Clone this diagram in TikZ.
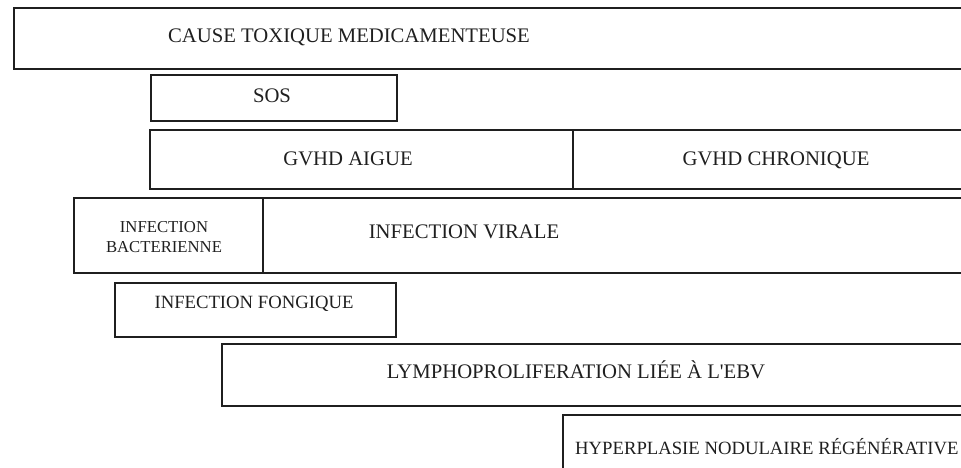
\documentclass[tikz,border=0pt]{standalone}
\usepackage{fontspec}
\setmainfont{Liberation Serif}
\usetikzlibrary{positioning}

\tikzset{
  cadre/.style={draw=black!88, line width=1.6pt, inner sep=0pt, anchor=north west},
  etiq/.style={font=\fontsize{20.7}{24}\selectfont, inner sep=0pt, text=black!88, anchor=base},
  moyen/.style={font=\fontsize{18.7}{22}\selectfont},
  petit/.style={font=\fontsize{16.7}{20}\selectfont, align=center, anchor=center}
}

\begin{document}
\begin{tikzpicture}[x=1pt,y=-1pt]
  \useasboundingbox (0,0) rectangle (961,468);
  \clip (0,0) rectangle (961,468);

  % Cadres (ils debordent a droite)
  \node[cadre, minimum width=1100pt, minimum height=61pt] (cause) at (13,7) {};
  \node[cadre, minimum width=246pt, minimum height=46pt] (sos) at (150,74) {};
  \node[cadre, minimum width=423pt, minimum height=59pt] (aigue) at (149,129) {};
  \node[cadre, minimum width=500pt, minimum height=59pt] (chronique) at (572,129) {};
  \node[cadre, minimum width=189pt, minimum height=75pt] (bacterie) at (73,197) {};
  \node[cadre, minimum width=800pt, minimum height=75pt] (virale) at (262,197) {};
  \node[cadre, minimum width=281pt, minimum height=54pt] (fongique) at (114,282) {};
  \node[cadre, minimum width=850pt, minimum height=62pt] (lympho) at (221,343) {};
  \node[cadre, minimum width=500pt, minimum height=80pt] (hyper) at (562,414) {};

  % Textes
  \node[etiq] (t-cause) at (349,43) {CAUSE TOXIQUE MEDICAMENTEUSE};
  \node[etiq] (t-sos) at (272,103) {SOS};
  \node[etiq] (t-aigue) at (348,165) {GVHD AIGUE};
  \node[etiq] (t-chronique) at (776,165) {GVHD CHRONIQUE};
  \node[etiq, petit] (t-bacterie) at (164,237) {INFECTION\\BACTERIENNE};
  \node[etiq] (t-virale) at (464,238) {INFECTION VIRALE};
  \node[etiq, moyen] (t-fongique) at (254,308) {INFECTION FONGIQUE};
  \node[etiq] (t-lympho) at (576,378) {LYMPHOPROLIFERATION LIÉE À L\textquotesingle EBV};
  \node[etiq, moyen, anchor=base west] (t-hyper) at (575,454) {HYPERPLASIE NODULAIRE RÉGÉNÉRATIVE};

\end{tikzpicture}
\end{document}
